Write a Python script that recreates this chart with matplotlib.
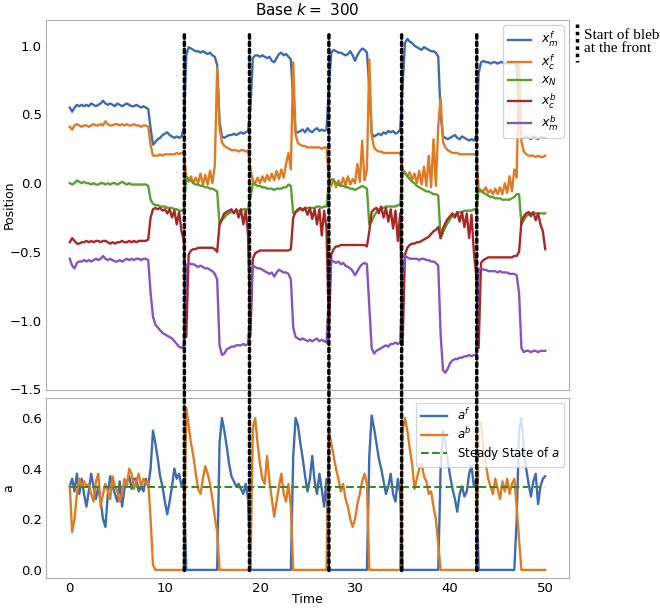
import numpy as np
import matplotlib.pyplot as plt
from matplotlib.patches import ConnectionPatch
from matplotlib.lines import Line2D

# sampled every 0.25 time units, 0..50
time = np.arange(201) * 0.25

x_m_f = [
    0.55, 0.52, 0.55, 0.57, 0.56, 0.57, 0.56, 0.57, 0.56, 0.58, 0.57, 0.56, 0.57, 0.58, 0.60, 0.58, 0.57, 0.58, 0.57, 0.56,
    0.58, 0.57, 0.56, 0.57, 0.58, 0.57, 0.56, 0.56, 0.57, 0.56, 0.55, 0.56, 0.55, 0.54, 0.40, 0.28, 0.30, 0.32, 0.33, 0.35,
    0.36, 0.37, 0.35, 0.34, 0.33, 0.34, 0.33, 0.34, 0.40, 0.93, 0.99, 0.98, 0.97, 0.96, 0.96, 0.95, 0.96, 0.95, 0.94, 0.95,
    0.93, 0.92, 0.86, 0.45, 0.34, 0.33, 0.34, 0.35, 0.35, 0.36, 0.35, 0.36, 0.37, 0.36, 0.37, 0.38, 0.55, 0.91, 0.93, 0.93,
    0.92, 0.93, 0.92, 0.91, 0.92, 0.89, 0.88, 0.91, 0.94, 0.95, 0.93, 0.94, 0.92, 0.90, 0.60, 0.37, 0.37, 0.38, 0.39, 0.37,
    0.40, 0.38, 0.37, 0.39, 0.40, 0.38, 0.39, 0.38, 0.39, 0.70, 0.95, 0.97, 0.96, 0.95, 0.95, 0.94, 0.93, 0.94, 0.96, 0.93,
    0.89, 0.93, 0.96, 0.98, 0.97, 0.95, 0.70, 0.36, 0.34, 0.35, 0.36, 0.35, 0.37, 0.36, 0.38, 0.37, 0.38, 0.36, 0.37, 0.39,
    0.70, 1.02, 1.05, 1.03, 1.02, 1.00, 0.99, 0.98, 0.97, 0.99, 0.98, 0.97, 0.96, 0.96, 0.95, 0.92, 0.50, 0.34, 0.33, 0.32,
    0.33, 0.34, 0.35, 0.33, 0.32, 0.34, 0.33, 0.32, 0.31, 0.32, 0.31, 0.35, 0.80, 0.88, 0.89, 0.88, 0.88, 0.87, 0.88, 0.88,
    0.87, 0.88, 0.88, 0.87, 0.88, 0.87, 0.88, 0.87, 0.86, 0.50, 0.33, 0.33, 0.34, 0.33, 0.32, 0.34, 0.33, 0.32, 0.34, 0.33,
    0.33]

x_c_f = [
    0.41, 0.39, 0.42, 0.43, 0.42, 0.41, 0.42, 0.42, 0.41, 0.42, 0.43, 0.42, 0.42, 0.43, 0.42, 0.45, 0.43, 0.42, 0.42, 0.43,
    0.43, 0.42, 0.43, 0.42, 0.43, 0.42, 0.42, 0.43, 0.42, 0.42, 0.41, 0.42, 0.42, 0.41, 0.28, 0.20, 0.20, 0.20, 0.21, 0.20,
    0.21, 0.21, 0.21, 0.21, 0.21, 0.22, 0.21, 0.22, 0.22, 0.04, 0.01, 0.05, 0.00, 0.04, 0.00, 0.07, -0.01, 0.06, -0.01, 0.09,
    0.00, 0.13, 0.84, 0.40, 0.30, 0.27, 0.26, 0.25, 0.24, 0.24, 0.24, 0.23, 0.24, 0.24, 0.23, 0.24, 0.10, 0.02, 0.00, 0.04,
    0.00, 0.05, 0.01, 0.06, 0.02, 0.07, 0.02, 0.09, 0.03, 0.10, 0.04, 0.14, 0.22, 0.10, 0.88, 0.35, 0.29, 0.28, 0.27, 0.27,
    0.26, 0.26, 0.26, 0.26, 0.26, 0.26, 0.25, 0.26, 0.26, 0.02, -0.02, 0.03, -0.03, 0.02, -0.02, 0.04, -0.02, 0.05, -0.01, 0.03,
    0.00, 0.14, 0.01, 0.31, 0.02, 0.10, 0.90, 0.35, 0.26, 0.24, 0.23, 0.23, 0.22, 0.22, 0.22, 0.22, 0.22, 0.22, 0.22, 0.22,
    0.10, 0.08, 0.05, 0.08, 0.02, 0.07, 0.00, 0.09, -0.01, 0.12, -0.02, 0.20, -0.03, 0.32, -0.02, 0.42, 0.62, 0.30, 0.26, 0.24,
    0.23, 0.22, 0.22, 0.22, 0.21, 0.21, 0.21, 0.21, 0.21, 0.21, 0.21, 0.21, -0.04, -0.05, -0.06, -0.03, -0.07, -0.05, -0.08, -0.04,
    -0.08, -0.03, -0.08, 0.00, -0.07, 0.05, -0.06, 0.10, 0.04, 0.88, 0.30, 0.23, 0.21, 0.20, 0.20, 0.20, 0.19, 0.20, 0.19, 0.19,
    0.20]

x_N = [
    0.00, -0.01, 0.00, 0.02, 0.01, 0.00, 0.01, 0.00, 0.00, -0.01, 0.00, -0.01, -0.01, 0.00, 0.00, -0.01, 0.00, -0.01, 0.00, 0.00,
    -0.01, 0.00, 0.01, 0.00, -0.01, 0.00, -0.01, -0.01, -0.01, -0.01, -0.01, -0.01, -0.01, -0.02, -0.12, -0.15, -0.16, -0.16, -0.17, -0.17,
    -0.17, -0.18, -0.18, -0.18, -0.19, -0.19, -0.20, -0.20, -0.19, 0.05, 0.03, 0.02, 0.00, -0.01, -0.01, -0.02, -0.02, -0.03, -0.03, -0.04,
    -0.04, -0.05, -0.06, -0.30, -0.27, -0.25, -0.23, -0.22, -0.21, -0.21, -0.20, -0.20, -0.20, -0.19, -0.19, -0.19, -0.10, 0.00, -0.01, -0.02,
    -0.02, -0.03, -0.03, -0.04, -0.04, -0.04, -0.05, -0.04, -0.04, -0.04, -0.03, -0.03, -0.01, -0.02, -0.22, -0.21, -0.20, -0.19, -0.19, -0.18,
    -0.18, -0.18, -0.18, -0.18, -0.17, -0.17, -0.18, -0.17, -0.17, 0.00, 0.03, 0.02, 0.00, -0.01, -0.02, -0.02, -0.03, -0.03, -0.04, -0.04,
    -0.05, -0.04, -0.03, -0.02, -0.03, -0.04, -0.30, -0.28, -0.24, -0.21, -0.19, -0.18, -0.18, -0.17, -0.17, -0.17, -0.17, -0.17, -0.16, -0.16,
    0.08, 0.07, 0.05, 0.03, 0.01, 0.00, -0.02, -0.03, -0.04, -0.05, -0.06, -0.06, -0.07, -0.08, -0.08, -0.09, -0.40, -0.36, -0.32, -0.29,
    -0.26, -0.24, -0.23, -0.22, -0.21, -0.21, -0.20, -0.20, -0.20, -0.20, -0.19, -0.19, -0.05, -0.06, -0.07, -0.08, -0.09, -0.10, -0.10, -0.11,
    -0.11, -0.11, -0.12, -0.12, -0.12, -0.12, -0.11, -0.10, -0.08, -0.08, -0.30, -0.27, -0.24, -0.23, -0.22, -0.22, -0.22, -0.22, -0.22, -0.22,
    -0.22]

x_c_b = [
    -0.43, -0.40, -0.42, -0.44, -0.44, -0.43, -0.43, -0.42, -0.43, -0.42, -0.43, -0.42, -0.42, -0.43, -0.42, -0.42, -0.43, -0.44, -0.43, -0.44,
    -0.43, -0.43, -0.42, -0.43, -0.43, -0.42, -0.43, -0.42, -0.43, -0.42, -0.42, -0.42, -0.42, -0.41, -0.25, -0.19, -0.18, -0.19, -0.18, -0.20,
    -0.19, -0.22, -0.19, -0.25, -0.20, -0.30, -0.21, -0.35, -0.42, -1.12, -0.52, -0.49, -0.48, -0.48, -0.47, -0.47, -0.47, -0.47, -0.47, -0.47,
    -0.47, -0.48, -0.50, -0.30, -0.26, -0.22, -0.21, -0.20, -0.19, -0.22, -0.19, -0.25, -0.19, -0.30, -0.20, -0.38, -1.10, -0.55, -0.51, -0.50,
    -0.49, -0.49, -0.49, -0.49, -0.49, -0.49, -0.49, -0.49, -0.49, -0.49, -0.49, -0.49, -0.49, -0.48, -0.25, -0.21, -0.19, -0.18, -0.20, -0.18,
    -0.23, -0.18, -0.26, -0.19, -0.30, -0.19, -0.38, -0.20, -0.33, -1.08, -0.52, -0.48, -0.46, -0.46, -0.45, -0.45, -0.45, -0.45, -0.45, -0.45,
    -0.45, -0.45, -0.45, -0.45, -0.45, -0.46, -0.35, -0.21, -0.19, -0.18, -0.22, -0.17, -0.25, -0.18, -0.28, -0.19, -0.33, -0.20, -0.42, -0.22,
    -1.18, -0.52, -0.47, -0.45, -0.44, -0.44, -0.43, -0.43, -0.42, -0.41, -0.40, -0.39, -0.37, -0.35, -0.34, -0.32, -0.40, -0.33, -0.29, -0.26,
    -0.24, -0.22, -0.25, -0.21, -0.28, -0.21, -0.32, -0.22, -0.40, -0.23, -0.50, -0.68, -1.20, -0.58, -0.56, -0.55, -0.54, -0.54, -0.54, -0.54,
    -0.54, -0.54, -0.54, -0.54, -0.54, -0.54, -0.54, -0.53, -0.53, -0.50, -0.28, -0.24, -0.22, -0.21, -0.24, -0.21, -0.27, -0.22, -0.30, -0.35,
    -0.48]

x_m_b = [
    -0.55, -0.60, -0.62, -0.58, -0.57, -0.57, -0.56, -0.57, -0.56, -0.57, -0.56, -0.55, -0.56, -0.55, -0.53, -0.55, -0.56, -0.55, -0.56, -0.57,
    -0.57, -0.56, -0.57, -0.56, -0.55, -0.56, -0.55, -0.56, -0.55, -0.55, -0.56, -0.55, -0.55, -0.56, -0.80, -0.97, -1.03, -1.05, -1.07, -1.09,
    -1.10, -1.11, -1.12, -1.13, -1.15, -1.17, -1.19, -1.20, -1.18, -0.60, -0.58, -0.59, -0.59, -0.60, -0.61, -0.60, -0.61, -0.62, -0.62, -0.63,
    -0.64, -0.66, -0.70, -1.18, -1.25, -1.24, -1.21, -1.20, -1.19, -1.19, -1.18, -1.18, -1.18, -1.17, -1.18, -1.17, -0.90, -0.60, -0.61, -0.62,
    -0.62, -0.63, -0.64, -0.65, -0.66, -0.65, -0.68, -0.65, -0.63, -0.64, -0.65, -0.65, -0.66, -0.70, -1.05, -1.12, -1.13, -1.14, -1.13, -1.14,
    -1.15, -1.14, -1.15, -1.14, -1.13, -1.15, -1.14, -1.15, -1.16, -0.80, -0.56, -0.57, -0.58, -0.57, -0.59, -0.58, -0.60, -0.61, -0.62, -0.64,
    -0.67, -0.64, -0.61, -0.59, -0.58, -0.59, -0.90, -1.20, -1.24, -1.22, -1.21, -1.20, -1.19, -1.18, -1.19, -1.17, -1.17, -1.16, -1.17, -1.16,
    -0.70, -0.53, -0.54, -0.55, -0.55, -0.55, -0.55, -0.56, -0.55, -0.55, -0.56, -0.56, -0.57, -0.57, -0.58, -0.60, -1.10, -1.36, -1.38, -1.35,
    -1.31, -1.29, -1.28, -1.28, -1.27, -1.27, -1.26, -1.26, -1.25, -1.26, -1.25, -1.25, -0.63, -0.62, -0.63, -0.63, -0.64, -0.64, -0.64, -0.64,
    -0.65, -0.64, -0.65, -0.65, -0.65, -0.66, -0.66, -0.66, -0.67, -0.80, -1.20, -1.23, -1.22, -1.22, -1.23, -1.22, -1.22, -1.23, -1.22, -1.22,
    -1.22]

a_f = [
    0.33, 0.36, 0.31, 0.38, 0.30, 0.36, 0.30, 0.25, 0.31, 0.38, 0.33, 0.28, 0.33, 0.27, 0.20, 0.17, 0.30, 0.37, 0.33, 0.30,
    0.27, 0.35, 0.25, 0.32, 0.35, 0.37, 0.32, 0.36, 0.36, 0.31, 0.33, 0.31, 0.36, 0.33, 0.40, 0.55, 0.50, 0.44, 0.37, 0.33,
    0.27, 0.22, 0.27, 0.33, 0.40, 0.36, 0.38, 0.33, 0.36, 0.00, 0.00, 0.00, 0.00, 0.00, 0.00, 0.00, 0.00, 0.00, 0.00, 0.00,
    0.00, 0.00, 0.00, 0.50, 0.60, 0.55, 0.49, 0.42, 0.37, 0.35, 0.33, 0.34, 0.32, 0.30, 0.34, 0.28, 0.00, 0.00, 0.00, 0.00,
    0.00, 0.00, 0.00, 0.00, 0.00, 0.00, 0.00, 0.00, 0.00, 0.00, 0.00, 0.00, 0.00, 0.00, 0.45, 0.60, 0.57, 0.50, 0.44, 0.37,
    0.31, 0.36, 0.45, 0.35, 0.30, 0.38, 0.32, 0.25, 0.36, 0.00, 0.00, 0.00, 0.00, 0.00, 0.00, 0.00, 0.00, 0.00, 0.00, 0.00,
    0.00, 0.00, 0.00, 0.00, 0.00, 0.00, 0.45, 0.61, 0.56, 0.50, 0.44, 0.40, 0.35, 0.30, 0.33, 0.38, 0.30, 0.27, 0.36, 0.30,
    0.00, 0.00, 0.00, 0.00, 0.00, 0.00, 0.00, 0.00, 0.00, 0.00, 0.00, 0.00, 0.00, 0.00, 0.00, 0.00, 0.40, 0.55, 0.50, 0.43,
    0.37, 0.32, 0.28, 0.23, 0.30, 0.33, 0.29, 0.31, 0.38, 0.41, 0.33, 0.36, 0.00, 0.00, 0.00, 0.00, 0.00, 0.00, 0.00, 0.00,
    0.00, 0.00, 0.00, 0.00, 0.00, 0.00, 0.00, 0.00, 0.20, 0.55, 0.60, 0.48, 0.40, 0.34, 0.29, 0.35, 0.38, 0.26, 0.33, 0.36,
    0.37]

a_b = [
    0.33, 0.15, 0.20, 0.30, 0.36, 0.33, 0.35, 0.33, 0.34, 0.30, 0.27, 0.35, 0.38, 0.25, 0.30, 0.34, 0.31, 0.28, 0.37, 0.33,
    0.31, 0.27, 0.30, 0.36, 0.33, 0.40, 0.38, 0.32, 0.35, 0.38, 0.33, 0.36, 0.34, 0.35, 0.20, 0.02, 0.00, 0.00, 0.00, 0.00,
    0.00, 0.00, 0.00, 0.00, 0.00, 0.00, 0.00, 0.00, 0.00, 0.64, 0.57, 0.50, 0.45, 0.38, 0.32, 0.30, 0.36, 0.41, 0.38, 0.34,
    0.28, 0.21, 0.15, 0.00, 0.00, 0.00, 0.00, 0.00, 0.00, 0.00, 0.00, 0.00, 0.00, 0.00, 0.00, 0.00, 0.00, 0.56, 0.60, 0.50,
    0.42, 0.36, 0.34, 0.45, 0.35, 0.28, 0.21, 0.27, 0.33, 0.38, 0.30, 0.27, 0.34, 0.25, 0.00, 0.00, 0.00, 0.00, 0.00, 0.00,
    0.00, 0.00, 0.00, 0.00, 0.00, 0.00, 0.00, 0.00, 0.00, 0.55, 0.50, 0.45, 0.40, 0.36, 0.31, 0.34, 0.28, 0.25, 0.20, 0.17,
    0.20, 0.26, 0.30, 0.35, 0.38, 0.34, 0.00, 0.00, 0.00, 0.00, 0.00, 0.00, 0.00, 0.00, 0.00, 0.00, 0.00, 0.00, 0.00, 0.00,
    0.55, 0.60, 0.55, 0.48, 0.42, 0.32, 0.36, 0.40, 0.42, 0.37, 0.35, 0.30, 0.31, 0.25, 0.20, 0.10, 0.00, 0.00, 0.00, 0.00,
    0.00, 0.00, 0.00, 0.00, 0.00, 0.00, 0.00, 0.00, 0.00, 0.00, 0.00, 0.00, 0.55, 0.58, 0.48, 0.42, 0.36, 0.33, 0.30, 0.36,
    0.32, 0.28, 0.35, 0.31, 0.36, 0.30, 0.34, 0.36, 0.25, 0.12, 0.00, 0.00, 0.00, 0.00, 0.00, 0.00, 0.00, 0.00, 0.00, 0.00,
    0.00]

steady_a = 0.328
bleb_starts = [12.05, 18.9, 27.25, 34.9, 42.8]

c_blue = '#3d6bb3'
c_orange = '#e07b24'
c_green = '#5aa02e'
c_red = '#a82828'
c_purple = '#8455c0'
spine_c = '#b0b0b0'

plt.rcParams['font.size'] = 9

fig = plt.figure(figsize=(6.6, 6.08), dpi=100)
ax1 = fig.add_axes([0.0697, 0.3586, 0.7924, 0.6084])
ax2 = fig.add_axes([0.0697, 0.0493, 0.7924, 0.2961])

lw = 1.7
ax1.plot(time, x_m_f, color=c_blue, lw=lw, label='$x_m^f$')
ax1.plot(time, x_c_f, color=c_orange, lw=lw, label='$x_c^f$')
ax1.plot(time, x_N, color=c_green, lw=lw, label='$x_N$')
ax1.plot(time, x_c_b, color=c_red, lw=lw, label='$x_c^b$')
ax1.plot(time, x_m_b, color=c_purple, lw=lw, label='$x_m^b$')
ax1.set_xlim(-2.5, 52.5)
ax1.set_ylim(-1.505, 1.187)
ax1.set_yticks([-1.5, -1.0, -0.5, 0.0, 0.5, 1.0])
ax1.set_xticks([])
ax1.set_ylabel('Position')
ax1.yaxis.set_label_coords(-0.058, 0.5)
ax1.set_title('Base $k=$ 300', fontsize=11, pad=4)
ax1.legend(loc='upper right', fontsize=9, edgecolor='#cccccc',
           handlelength=1.9, labelspacing=0.22, borderaxespad=0.4)

ax2.plot(time, a_f, color=c_blue, lw=lw, label='$a^f$')
ax2.plot(time, a_b, color=c_orange, lw=lw, label='$a^b$')
ax2.plot([time[0], time[-1]], [steady_a, steady_a], '--', color='#3d8a22', lw=1.5,
         label='Steady State of $a$')
ax2.set_xlim(-2.5, 52.5)
ax2.set_ylim(-0.032, 0.679)
ax2.set_yticks([0.0, 0.2, 0.4, 0.6])
ax2.set_xticks([0, 10, 20, 30, 40, 50])
ax2.set_xlabel('Time')
ax2.xaxis.set_label_coords(0.5, -0.083)
ax2.set_ylabel('a')
ax2.yaxis.set_label_coords(-0.058, 0.5)
ax2.legend(loc='upper right', fontsize=8.5, edgecolor='#cccccc',
           handlelength=2.2, labelspacing=0.25, borderaxespad=0.4)

for ax in (ax1, ax2):
    for s in ax.spines.values():
        s.set_color(spine_c)
    ax.tick_params(length=0, pad=3, labelsize=9.5)

# dotted markers for bleb start, spanning both panels
for tb in bleb_starts:
    con = ConnectionPatch(xyA=(tb, 1.08), coordsA=ax1.transData,
                          xyB=(tb, -0.012), coordsB=ax2.transData,
                          color='k', lw=2.5, linestyle=(0, (1, 1.1)))
    fig.add_artist(con)

fig.add_artist(Line2D([577 / 660, 577 / 660], [1 - 24 / 608, 1 - 62 / 608],
                      transform=fig.transFigure, color='k', lw=2.5,
                      linestyle=(0, (1, 1.1))))
fig.text(584 / 660, 1 - 29 / 608, 'Start of bleb\nat the front', va='top',
         ha='left', family='Liberation Serif', fontsize=11, linespacing=1.0)

fig.savefig('out.png', dpi=100)
